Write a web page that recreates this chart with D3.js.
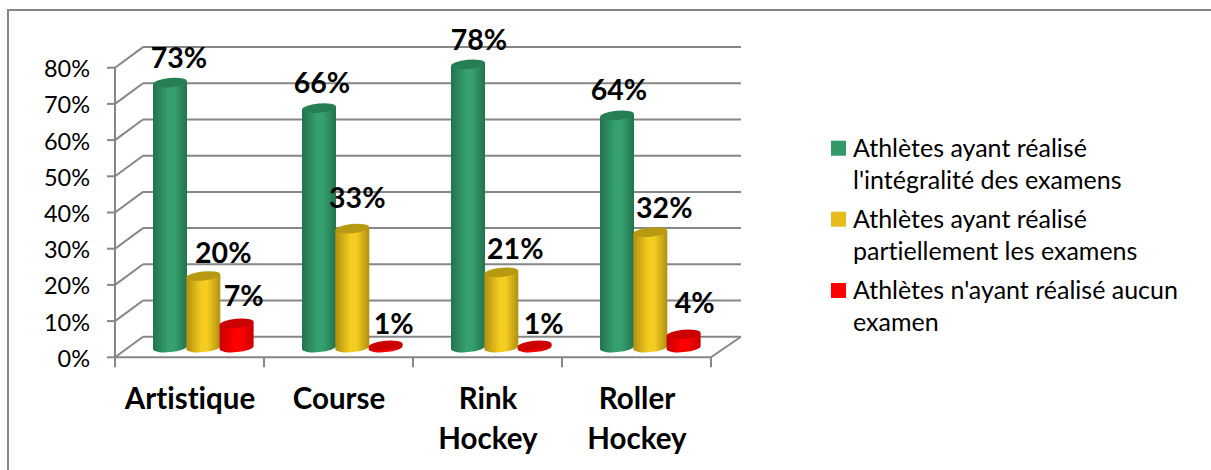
<!DOCTYPE html>
<html><head><meta charset="utf-8">
<script src="https://cdn.jsdelivr.net/npm/d3@7/dist/d3.min.js"></script>
<style>html,body{margin:0;padding:0;background:#fff;overflow:hidden}svg{display:block}text{font-family:Lato,"Open Sans",sans-serif;fill:#000;font-variant-ligatures:none}</style>
</head><body><svg id="c" width="1211" height="470"></svg>
<script>
const categories = [["Artistique"],["Course"],["Rink","Hockey"],["Roller","Hockey"]];
const categoryKeys = ["Artistique","Course","Rink Hockey","Roller Hockey"];
const complete = [73,66,78,64];
const partial = [20,33,21,32];
const none = [7,1,1,4];
const yTicks = [0,10,20,30,40,50,60,70,80];
const seriesNames = [["Athlètes ayant réalisé","l'intégralité des examens"],["Athlètes ayant réalisé","partiellement les examens"],["Athlètes n'ayant réalisé aucun","examen"]];
const seriesValues = [complete, partial, none];
const palette = [
  {edge:"#22734d",mid:"#36a16f",top:"#257f52",key:"#339966"},
  {edge:"#b08f10",mid:"#f5cd20",top:"#b89a12",key:"#e6bc1c"},
  {edge:"#c80000",mid:"#ff0000",top:"#cc0000",key:"#ff0000"}];
// label placement relative to each bar top [dx, dy] per series, per category
const labelDx = [[9,3,11,2],[20,5,14,14],[7,8,9,11]];
const labelDy = [[-15,-15,-14,-15],[-13,-21,-13,-14],[-17,-11,-11,-21]];

const svg = d3.select("#c");
const grey = "#868686";
svg.append("rect").attr("x",8).attr("y",10).attr("width",1300).attr("height",600).attr("fill","none").attr("stroke",grey).attr("stroke-width",2);

const depthX = 28, depthY = -20.6;
const yFront = d3.scaleLinear().domain([0,80]).range([357.3,67.7]);
const yBar = d3.scaleLinear().domain([0,80]).range([349,57]);
const x0 = d3.scaleBand().domain(categoryKeys).range([115,711]);
const gap = 33.3, barW = 34, inset = 38;
const barX = (c,s)=> x0(categoryKeys[c]) + inset + s*gap;

const defs = svg.append("defs");
palette.forEach((p,i)=>{
  const g = defs.append("linearGradient").attr("id","g"+i);
  [[0,p.edge],[0.45,p.mid],[0.62,p.mid],[1,p.edge]].forEach(([o,c])=>g.append("stop").attr("offset",o).attr("stop-color",c));
});

// walls
const grid = svg.append("g").attr("fill","none").attr("stroke",grey).attr("stroke-width",2);
yTicks.forEach(t=>{
  const y = yFront(t);
  grid.append("line").attr("x1",107).attr("x2",115).attr("y1",y).attr("y2",y);
  grid.append("line").attr("x1",115).attr("y1",y).attr("x2",115+depthX).attr("y2",y+depthY);
  grid.append("line").attr("x1",115+depthX).attr("y1",y+depthY).attr("x2",711+depthX+2).attr("y2",y+depthY);
});
grid.append("line").attr("x1",115).attr("x2",115).attr("y1",yFront(80)).attr("y2",yFront(0)+10);
grid.append("line").attr("x1",115).attr("x2",711).attr("y1",yFront(0)).attr("y2",yFront(0));
grid.append("line").attr("x1",711).attr("y1",yFront(0)).attr("x2",711+depthX+2).attr("y2",yFront(0)+depthY);
categoryKeys.forEach(k=>{
  const x = x0(k)+x0.bandwidth();
  grid.append("line").attr("x1",x).attr("x2",x).attr("y1",yFront(0)).attr("y2",yFront(0)+10);
});

// y tick labels
svg.append("g").selectAll("text").data(yTicks).join("text")
  .attr("x",90).attr("y",d=>yFront(d)+9.5).attr("text-anchor","end")
  .attr("font-size",23.5).text(d=>d+"%");

// cylinders
const rx = 17, ry = 4.6, tilt = 1.6, rot = -5.5;
const bars = svg.append("g");
categoryKeys.forEach((k,c)=>{
  seriesValues.forEach((vals,s)=>{
    const v = vals[c], xl = barX(c,s), xr = xl+barW, cx = xl+barW/2, top = yBar(v), base = yBar(0)-1.5;
    bars.append("path").attr("fill",`url(#g${s})`)
      .attr("d",`M${xl},${top+tilt}L${xl},${base+tilt}A${rx},${ry} ${rot} 0 0 ${xr},${base-tilt}L${xr},${top-tilt}Z`);
    bars.append("ellipse").attr("cx",cx).attr("cy",top).attr("rx",rx).attr("ry",ry)
      .attr("transform",`rotate(${rot} ${cx} ${top})`).attr("fill",palette[s].top);
  });
});

// data labels
const labels = svg.append("g");
categoryKeys.forEach((k,c)=>{
  seriesValues.forEach((vals,s)=>{
    labels.append("text").attr("x",barX(c,s)+barW/2+labelDx[s][c]).attr("y",yBar(vals[c])+labelDy[s][c])
      .attr("text-anchor","middle").attr("font-size",28.5).attr("font-weight",700).text(vals[c]+"%");
  });
});

// category labels
categories.forEach((lines,c)=>{
  const cx = x0(categoryKeys[c])+x0.bandwidth()/2 + 0.5;
  lines.forEach((t,i)=>{
    svg.append("text").attr("x",cx).attr("y",408.5+i*40.5).attr("text-anchor","middle")
      .attr("font-size",29.5).attr("font-weight",700).text(t);
  });
});

// legend
const legendBase = [155.7,226.7,298];
seriesNames.forEach((lines,s)=>{
  svg.append("rect").attr("x",831).attr("y",legendBase[s]-15).attr("width",15).attr("height",15).attr("fill",palette[s].key);
  lines.forEach((t,i)=>{
    svg.append("text").attr("x",853).attr("y",legendBase[s]+1+i*32).attr("font-size",25).text(t);
  });
});
</script></body></html>
